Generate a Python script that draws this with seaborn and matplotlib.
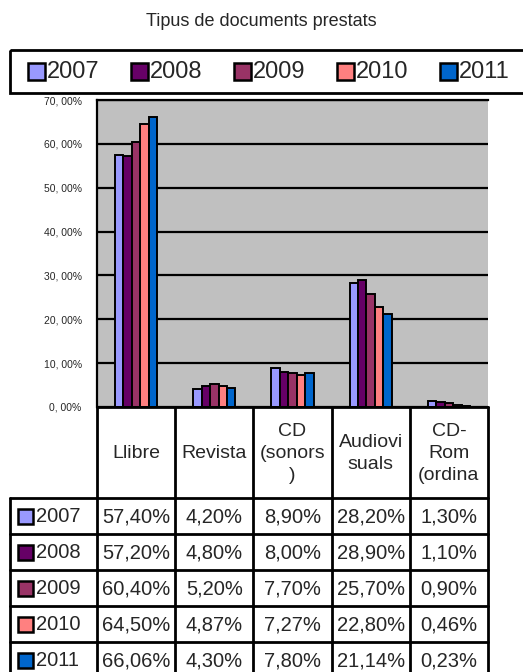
import pandas as pd
import matplotlib.pyplot as plt
import seaborn as sns
from matplotlib.patches import Rectangle

# ----- data -----
categories = ['Llibre', 'Revista', 'CD (sonors)', 'Audiovisuals', 'CD-Rom (ordinador)']
header_labels = ['Llibre', 'Revista', 'CD\n(sonors\n)', 'Audiovi\nsuals', 'CD-\nRom\n(ordina']
years = ['2007', '2008', '2009', '2010', '2011']
v2007 = [57.40, 4.20, 8.90, 28.20, 1.30]
v2008 = [57.20, 4.80, 8.00, 28.90, 1.10]
v2009 = [60.40, 5.20, 7.70, 25.70, 0.90]
v2010 = [64.50, 4.87, 7.27, 22.80, 0.46]
v2011 = [66.06, 4.30, 7.80, 21.14, 0.23]
values = [v2007, v2008, v2009, v2010, v2011]
colors = ['#9999FF', '#660066', '#993366', '#FF8080', '#0066CC']

rows = []
for y, vals in zip(years, values):
    for c, v in zip(categories, vals):
        rows.append({'categoria': c, 'any': y, 'valor': v})
df = pd.DataFrame(rows)

sns.set_style('white')
plt.rcParams['font.family'] = ['Liberation Sans', 'DejaVu Sans']

W, H = 523, 672
fig = plt.figure(figsize=(W / 100, H / 100), dpi=100)

# plot area in pixels
left, right, top, bottom = 97, 488, 100, 407
ax = fig.add_axes([left / W, 1 - bottom / H, (right - left) / W, (bottom - top) / H])
ax.set_facecolor('#C0C0C0')
sns.barplot(data=df, x='categoria', y='valor', hue='any', order=categories,
            hue_order=years, palette=colors, width=0.54, edgecolor='black',
            linewidth=1.4, saturation=1, legend=False, ax=ax, zorder=3)
ax.set_ylim(0, 70)
ax.set_xlim(-0.5, len(categories) - 0.5)
ticks = list(range(0, 71, 10))
ax.set_yticks(ticks)
ax.set_yticklabels([f'{t}, 00%' for t in ticks], fontsize=7.5)
ax.set_xticks([])
ax.set_xlabel('')
ax.set_ylabel('')
ax.grid(axis='y', color='black', linewidth=1.6, zorder=1)
ax.set_axisbelow(True)
ax.tick_params(axis='y', length=7, width=1.5, color='black', direction='out', pad=4)
for s in ['right', 'bottom']:
    ax.spines[s].set_visible(False)
for s in ['left', 'top']:
    ax.spines[s].set_color('black')
    ax.spines[s].set_linewidth(1.6)

fig.text(0.5, 1 - 21 / H, 'Tipus de documents prestats', ha='center', va='center', fontsize=13)

# overlay in pixel coordinates for legend and data table
ov = fig.add_axes([0, 0, 1, 1], zorder=5)
ov.set_xlim(0, W)
ov.set_ylim(H, 0)
ov.axis('off')
ov.patch.set_alpha(0)

# legend box
ov.add_patch(Rectangle((10, 50), 520, 43, fill=False, edgecolor='black', linewidth=2))
for i, (y, c) in enumerate(zip(years, colors)):
    x0 = 28 + i * 103
    ov.add_patch(Rectangle((x0, 63), 17, 17, facecolor=c, edgecolor='black', linewidth=1.8))
    ov.text(x0 + 19, 72, y, ha='left', va='center', fontsize=17)

# data table
ncol = len(categories)
col_w = (right - left) / ncol
col_edges = [left + i * col_w for i in range(ncol + 1)]
head_h, row_h = 91, 36
row_top = bottom + head_h
lw = 2

ov.plot([left, right], [bottom, bottom], color='black', lw=lw)
for xe in col_edges:
    ov.plot([xe, xe], [bottom, H + 5], color='black', lw=lw)
ov.plot([10, 10], [row_top, H + 5], color='black', lw=lw)
for j in range(len(years) + 1):
    yy = row_top + j * row_h
    ov.plot([10, right], [yy, yy], color='black', lw=lw)

for i, lab in enumerate(header_labels):
    ov.text(col_edges[i] + col_w / 2, bottom + head_h / 2 + 1, lab, ha='center', va='center',
            fontsize=14, linespacing=1.4)

for j, (y, c, vals) in enumerate(zip(years, colors, values)):
    yc = row_top + j * row_h + row_h / 2
    ov.add_patch(Rectangle((18, yc - 7.5), 15, 15, facecolor=c, edgecolor='black', linewidth=1.8))
    ov.text(36, yc + 1, y, ha='left', va='center', fontsize=14.5)
    for i, v in enumerate(vals):
        txt = f'{v:.2f}'.replace('.', ',') + '%'
        ov.text(col_edges[i] + col_w / 2, yc + 1, txt, ha='center', va='center', fontsize=14.5)

fig.savefig('out.png', dpi=100)
